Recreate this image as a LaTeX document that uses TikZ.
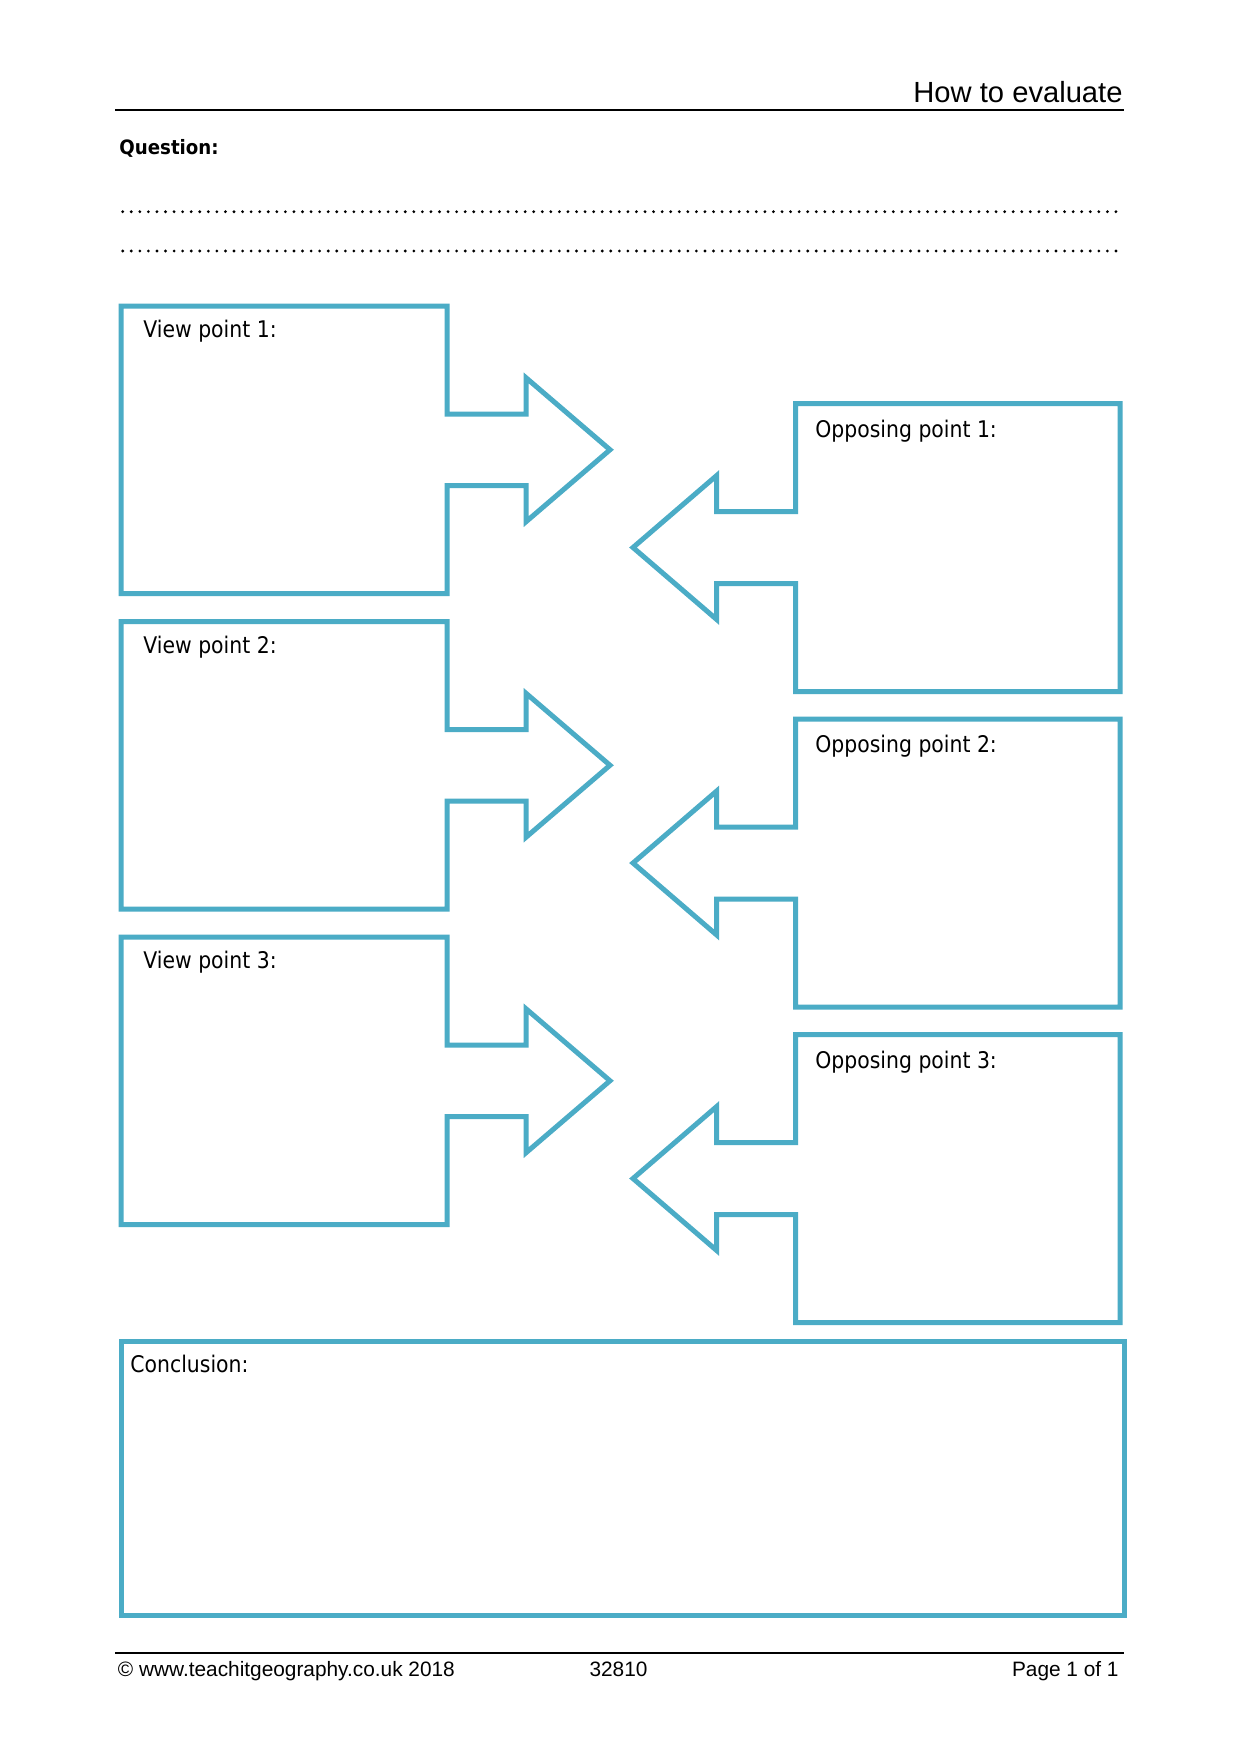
\documentclass[tikz,border=0pt]{standalone}
\usepackage{fontspec}
\setmainfont{Liberation Sans}
\newfontfamily\labfont{DejaVu Sans}[FakeStretch=0.89]
\newfontfamily\qfont{DejaVu Sans}[FakeStretch=0.92]
\definecolor{boxteal}{HTML}{4BACC6}
\begin{document}
\begin{tikzpicture}[x=0.48pt,y=-0.48pt,
  boxline/.style={draw=boxteal,line width=2.4pt,line join=miter},
  rule/.style={draw=black,line width=0.75pt},
  dotline/.style={draw=black,line width=1.5pt,line cap=round,dash pattern=on 0pt off 4.11pt},
  lab/.style={inner sep=0pt,anchor=base west,font=\labfont\fontsize{11pt}{13pt}\selectfont},
  foot/.style={inner sep=0pt,font=\fontsize{10pt}{12pt}\selectfont}]
\useasboundingbox (0,0) rectangle (1240,1754);
\fill[white] (0,0) rectangle (1240,1754);
% header
\node[inner sep=0pt,anchor=base east,font=\fontsize{14pt}{16pt}\selectfont] (title) at (1123,102) {How to evaluate};
\coordinate (hl) at (115,110);
\coordinate (hr) at (1124,110);
\draw[rule] (hl) -- (hr);
\node[inner sep=0pt,anchor=base west,font=\qfont\bfseries\fontsize{9.5pt}{12pt}\selectfont] (question) at (119,154.5) {Question:};
\coordinate (d1l) at (122.7,211.7);
\coordinate (d1r) at (1119,211.7);
\coordinate (d2l) at (122.7,251);
\coordinate (d2r) at (1119,251);
\draw[dotline] (d1l) -- (d1r);
\draw[dotline] (d2l) -- (d2r);
% left view point shapes
\foreach \i/\cy in {1/449.75,2/765.25,3/1080.75}{
  \draw[boxline] (121,\cy-143.75) -- (447,\cy-143.75) -- (447,\cy-35.75) -- (526,\cy-35.75)
    -- (526,\cy-72) -- (610,\cy) -- (526,\cy+72) -- (526,\cy+35.75) -- (447,\cy+35.75)
    -- (447,\cy+143.75) -- (121,\cy+143.75) -- cycle;
  \node[lab] (vp\i) at (143,\cy-112.25) {View point \i:};
}
% right opposing point shapes
\foreach \i/\cy in {1/547.5,2/863,3/1178.5}{
  \draw[boxline] (1120,\cy-144) -- (795.5,\cy-144) -- (795.5,\cy-36) -- (716.7,\cy-36)
    -- (716.7,\cy-72) -- (633,\cy) -- (716.7,\cy+72) -- (716.7,\cy+36) -- (795.5,\cy+36)
    -- (795.5,\cy+144) -- (1120,\cy+144) -- cycle;
  \node[lab] (op\i) at (815,\cy-110.5) {Opposing point \i:};
}
% conclusion
\draw[boxline] (121,1341.7) rectangle (1124.5,1615);
\node[lab] (concl) at (130,1372) {Conclusion:};
% footer
\coordinate (fl) at (115,1653);
\coordinate (fr) at (1124,1653);
\draw[rule] (fl) -- (fr);
\node[foot,anchor=base west] (copy) at (117.5,1676) {© www.teachitgeography.co.uk 2018};
\node[foot,anchor=base] (code) at (618.5,1676) {32810};
\node[foot,anchor=base east] (page) at (1119,1676) {Page 1 of 1};
\end{tikzpicture}
\end{document}
